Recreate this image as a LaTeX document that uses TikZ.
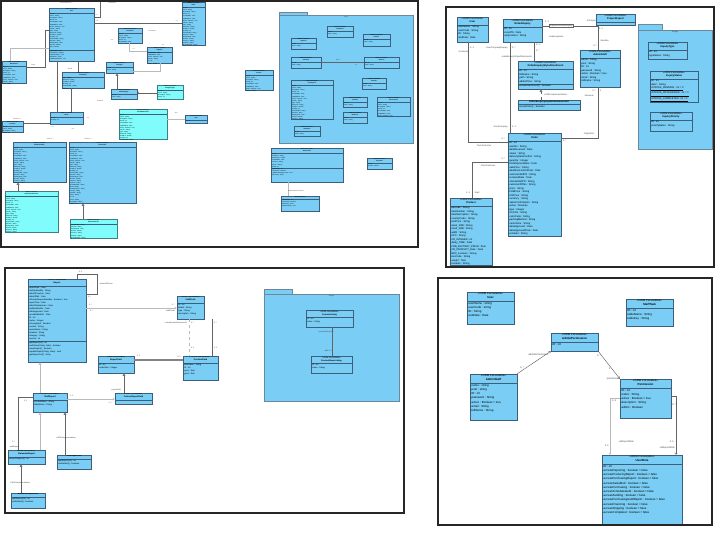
\documentclass[tikz,border=0pt]{standalone}
\usepackage{fontspec}
\setmainfont{Liberation Sans}
\usetikzlibrary{fit,arrows.meta}
\definecolor{cfill}{RGB}{122,205,244}
\definecolor{cdraw}{RGB}{60,96,124}
\definecolor{cyfill}{RGB}{128,252,252}
\definecolor{cydraw}{RGB}{58,128,132}
\definecolor{lnk}{RGB}{100,100,100}
\definecolor{lnkl}{RGB}{185,185,185}
\newcommand\clsfont{\fontsize{2.5}{3.5}\selectfont}
\newcommand\lblfont{\fontsize{2.2}{2.6}\selectfont}
\newcommand\hdh{8}
\newcommand\uhh{4.5}
\tikzset{
  panel/.style={draw=black!85, line width=1.5pt},
  clsbox/.style={draw=cdraw, fill=cfill, line width=0.5pt, inner sep=0pt},
  cybox/.style={draw=cydraw, fill=cyfill, line width=0.5pt, inner sep=0pt},
  inbox/.style={draw=cdraw, fill=cfill, line width=0.35pt, inner sep=0pt},
  pkgbox/.style={draw=cdraw!75, fill=cfill, line width=0.5pt, inner sep=0pt},
  conn/.style={draw=lnk, line width=0.45pt},
  connl/.style={draw=lnkl, line width=0.45pt},
  gen/.style={-{Triangle[open,length=2.6pt,width=2.8pt]}},
  nav/.style={-{Straight Barb[length=1.6pt,width=2.6pt]}},
  lbl/.style={font=\lblfont, inner sep=0pt, text=black!75},
  txt/.style={inner sep=0.5pt, align=left, font=\clsfont},
  hdrtxt/.style={inner sep=0.5pt, align=center, font=\clsfont},
}
% class with stereotype header
\newcommand\umlcls[8][clsbox]{%
  \node[#1, fit={(#3,#4)(#5,#6)}] (#2) {};
  \begin{scope}
    \clip (#3,#4) rectangle (#5,#6);
    \node[hdrtxt, anchor=north] (#2-h) at (#2.north) {<<ORM Persistable>>\\\textbf{#7}};
    \draw[draw=cdraw, line width=0.4pt] (#3,#4+\hdh) -- (#5,#4+\hdh);
    \node[txt, anchor=north west] (#2-a) at (#3,#4+\hdh) {#8};
  \end{scope}
}
% class without stereotype
\newcommand\umlutil[8][clsbox]{%
  \node[#1, fit={(#3,#4)(#5,#6)}] (#2) {};
  \begin{scope}
    \clip (#3,#4) rectangle (#5,#6);
    \node[hdrtxt, anchor=north] (#2-h) at (#2.north) {\textbf{#7}};
    \draw[draw=cdraw, line width=0.4pt] (#3,#4+\uhh) -- (#5,#4+\uhh);
    \node[txt, anchor=north west] (#2-a) at (#3,#4+\uhh) {#8};
  \end{scope}
}
\newcommand\umlops[5]{%
  \draw[draw=cdraw, line width=0.4pt] (#1,#3) -- (#2,#3);
  \node[txt, anchor=north west] (#4) at (#1,#3) {#5};
}
\newcommand\umlpkg[8]{%
  \draw[pkgbox] (#2,#3) rectangle (#2+#6,#3+#7);
  \node[pkgbox, fit={(#2,#3+#7)(#4,#5)}] (#1) {};
  \node[lbl, anchor=north] (#1-t) at ([yshift=-0.8pt]#1.north) {#8};
}
\newcounter{clabc}
\newcommand\clab[3][center]{\stepcounter{clabc}\node[lbl, anchor=#1] (clab\arabic{clabc}) at (#2) {#3};}
% fillers
\def\Fa{-ID : int\\-name : String\\-description : String\\-status : int}
\def\Fb{-createdDate : Date\\-lastModified : Date\\-active : boolean = true\\-remark : String}
\def\Fc{-type : String\\-itemCode : String\\-unitPrice : double\\-quantity : int}
\def\Fd{-customerRef : String\\-orderNo : String\\-deliveryDate : Date\\-amount : double}
\def\Fe{-currency : String\\-address : String\\-phoneNumber : String\\-email : String}
\def\Ff{-contactPerson : String\\-country : String\\-zipCode : String\\-notes : String}
\def\Fall{\Fa\\\Fb\\\Fc\\\Fd\\\Fe\\\Ff\\\Fa\\\Fb}
\begin{document}
\begin{tikzpicture}[x=1pt, y=-1pt]
\useasboundingbox (0,0) rectangle (720,536);
\fill[white] (0,0) rectangle (720,536);

%================ PANEL 1 =================
\def\clsfont{\fontsize{1.45}{2.05}\selectfont}\def\hdh{5}\def\uhh{3}\def\lblfont{\fontsize{1.5}{1.8}\selectfont}
\umlcls{p1item}{49}{8}{94}{61}{Item}{\Fa\\\Fb\\\Fc\\\Fd\\-flag : boolean}
\umlops{49}{94}{50}{p1item-o}{+getItem(int) : Item\\+saveItem() : boolean\\+deleteItem(int) : void\\+listItems() : Array\\+updateItem(Item) : void}
\umlcls{p1rc}{182}{2}{205}{45}{Order}{\Fall}
\umlcls{p1a}{118}{28}{142}{43}{Customer}{\Fa\\\Fb}
\umlcls{p1b}{147}{47}{172}{63}{Supplier}{\Fb\\\Fa}
\umlcls{p1c}{106}{62}{133}{73}{Category}{-ID : int\\-name : String}
\umlcls{p1d}{111}{89}{137}{99}{SubCategory}{-ID : int\\-code : String}
\umlcls[cybox]{p1e}{157}{85}{183}{99}{CategoryType}{\Fa}
\umlcls{p1f}{62}{72}{104}{88}{ItemDetail}{\Fc\\\Fd}
\umlcls{p1g}{2}{61}{26}{83}{Warehouse}{\Fall}
\umlcls{p1h}{50}{112}{83}{124}{Stock}{-ID : int\\-quantity : int}
\umlcls[cybox]{p1i}{119}{109}{167}{139}{StockMovement}{\Fall}
\umlcls{p1j}{185}{115}{207}{123}{Unit}{-ID : int}
\umlcls{p1k}{2}{121}{23}{132}{Location}{\Fa}
\umlcls{p1l}{13}{142}{66}{182}{PurchaseOrder}{\Fall}
\umlcls{p1m}{69}{142}{136}{203}{SalesOrder}{\Fall\\\Fall}
\umlcls[cybox]{p1n}{5}{191}{58}{232}{PurchaseOrderLine}{\Fall}
\umlcls[cybox]{p1o}{70}{219}{117}{238}{SalesOrderLine}{\Fd\\\Fe}
\umlcls{p1p}{245}{70}{273}{90}{Invoice}{\Fall}
\umlcls{p1q}{271}{148}{343}{182}{InvoiceLine}{-ID : int\\-invoiceNo : String\\-lineAmount : double\\-createdDate : Date\\-currency : String\\-remark : String\\-status : int}
\umlops{271}{343}{168}{p1q-o}{+getLine(int) : int\\+saveLine() : boolean\\+updateLine(String, Date) : void\\+listLines() : Array}
\umlcls{p1r}{367}{158}{392}{169}{Payment}{-ID : int\\-amount : double}
\umlutil{p1s}{281}{196}{319}{211}{InvoiceLineUtil}{+getLine(int) : int\\+saveLine() : boolean\\+listLines() : Array\\+deleteLine(int) : void}
\umlpkg{p1pkg}{279}{12}{413}{143}{28}{3.5}{Arrays}
\umlcls[inbox]{p1k1}{327}{26}{353}{37}{StatusList}{-ID : int\\-value : String}
\umlcls[inbox]{p1k2}{291}{38}{316}{49}{TypeList}{-ID : int\\-value : String}
\umlcls[inbox]{p1k3}{363}{34}{390}{46}{UnitList}{-ID : int\\-value : String}
\umlcls[inbox]{p1k4}{291}{57}{321}{68}{ColorList}{-ID : int\\-value : String}
\umlcls[inbox]{p1k5}{364}{57}{399}{68}{SizeList}{-ID : int\\-value : String}
\umlcls[inbox]{p1k6}{291}{80}{333}{119}{CountryList}{\Fall}
\umlcls[inbox]{p1k7}{362}{78}{386}{89}{PortList}{-ID : int\\-value : String}
\umlcls[inbox]{p1k8}{343}{97}{367}{107}{TermList}{-ID : int\\-value : String}
\umlcls[inbox]{p1k9}{377}{97}{410}{116}{CurrencyList}{\Fa\\\Fb}
\umlcls[inbox]{p1k10}{343}{112}{367}{123}{BankList}{-ID : int\\-value : String}
\umlcls[inbox]{p1k11}{294}{126}{320}{136}{GradeList}{-ID : int\\-value : String}
% connectors
\coordinate (p1t1) at (100,2);
\draw[conn] (p1item.east |- 0,17) -- (100,17) -- (p1t1);
\draw[conn] (p1item.east |- 0,23) -- (p1rc.west |- 0,23);
\draw[conn] (p1item.west |- 0,30) -- (45,30) -- (45,67) -- (p1g.east |- 0,67);
\draw[connl] (p1item.west |- 0,48) -- (10,48) -- (p1g.north -| 10,0);
\draw[conn] (p1item.south -| 57,0) -- (p1h.north -| 57,0);
\draw[conn] (p1f.north -| 78,0) -- (p1item.south -| 78,0);
\draw[conn] (p1f.south -| 71,0) -- (p1h.north -| 71,0);
\draw[conn, gen] (p1d.north -| 117,0) -- (p1c.south -| 117,0);
\draw[conn, nav] (p1e.west |- 0,93) -- (p1d.east |- 0,93);
\draw[connl] (p1c.east |- 0,71) -- (160,71) -- (p1b.south -| 160,0);
\draw[connl] (p1a.south -| 129,0) -- (129,51) -- (p1b.west |- 0,51);
\draw[conn] (p1k.east |- 0,123) -- (p1h.west |- 0,123);
\draw[conn, gen] (p1n.north -| 18,0) -- (p1l.south -| 18,0);
\draw[conn, gen] (p1o.north -| 83,0) -- (p1m.south -| 83,0);
\draw[connl] (p1i.east |- 0,119) -- (p1j.west |- 0,119);
\draw[connl] (p1s.north -| 288,0) -- (p1q.south -| 288,0);
\draw[conn] (p1k4.east |- 0,62) -- (p1k5.west |- 0,62);
\clab{66,3}{-inventoryItems 0..*}
\clab{112,3}{-orderItems}
\clab{97,15}{0..*}
\clab{97,21}{0..1}
\clab{177,21}{0..*}
\clab{152,31}{-customers}
\clab{112,40}{0..1}
\clab{134,49}{0..*}
\clab{163,45}{0..1}
\clab{70,69}{-details}
\clab{33,65}{-items}
\clab{100,101}{-stockList}
\clab{17,119}{-location 0..*}
\clab{88,118}{0..1}
\clab{176,113}{-unit}
\clab{50,139}{-items 0..*}
\clab{88,139}{-history 0..*}
\clab{73,129}{0..1}
\clab{53,127}{0..*}
\clab{296,191}{<<ORM Implementation>>}
\clab{338,60}{-list 0..*}
\clab{356,65}{0..1}

%================ PANEL 2 =================
\def\clsfont{\fontsize{2.5}{3.5}\selectfont}\def\hdh{8}\def\uhh{4.5}\def\lblfont{\fontsize{2.2}{2.6}\selectfont}
\umlcls{p2user}{457}{17}{488}{42}{User}{-userName : String\\-userCode : String\\-ID : String\\-endDate : Date}
\umlcls{p2enq}{503}{19}{542}{42}{OrderEnquiry}{-ID : int\\-recvdTS : Date\\-enqContent : String}
\umlcls{p2proj}{596}{14}{635}{25}{ProjectReport}{}
\umlcls{p2att}{518}{61}{573}{89}{OrderEnquiryStyleAttachment}{-ID : int\\-fileName : String\\-path : String\\-addedTime : String}
\umlops{518}{573}{84}{p2att-o}{+saveAttachment() : boolean}
\umlutil{p2util}{518}{100}{580}{110}{OrderEnquiryStyleAttachmentUtil}{+saveOrder() : boolean}
\umlcls{p2order}{508}{133}{561}{236}{Order}{-ID : int\\-userNo : String\\-dateReceived : Date\\-status : String\\-deliveryDateConfirm : String\\-quantity : Integer\\-firstShipmentDate : Date\\-salePrice : String\\-deadlineConfirmDate : Date\\-customerRefPO : String\\-receivedDate : Date\\-checkerRefPO : String\\-customerPONo : String\\-price : String\\-FOBPrice : String\\-CIFPrice : String\\-currency : String\\-salesConfirmation : String\\-active : Boolean\\-type : Integer\\-CCCNo : String\\-colorCode : String\\-packingMethod : String\\-cartonSize : String\\-dateApproved : Date\\-dateApprovedFinal : Date\\-remarks : String}
\umlcls{p2prod}{450}{198}{492}{265}{Product}{-barcode : String\\-itemNumber : String\\-itemDescription : String\\-countryCode : String\\-unitPrice : String\\-size1\_FOB : String\\-size2\_FOB : String\\-width : String\\-UPC : String\\-CR\_INTEGER : int\\-delay\_TIME : Date\\-FOB\_FACTORY\_PRICE : float\\-CR\_PRODUCT\_Date : Date\\-BOX\_Location : String\\-boxCode : String\\-weight : float\\-remarks : String}
\umlcls{p2admin}{580}{50}{620}{87}{AdminStaff}{-name : String\\-post : String\\-ID : int\\-password : String\\-active : Boolean = true\\-email : String\\-fullName : String}
\umlpkg{p2pkg}{638}{24}{712}{149}{24}{6}{Arrays}
\umlcls[inbox]{p2it}{648}{42}{687}{59}{InquiryType}{-ID : int\\-typeName : String}
\umlcls[inbox]{p2is}{650}{71}{698}{102}{InquiryStatus}{-ID : int\\-desc : String\\\underline{+STATUS\_PENDING : int = 0}\\\underline{+STATUS\_PROCESSING : int = 1}\\\underline{+STATUS\_COMPLETED : int = 2}}
\umlcls[inbox]{p2ip}{650}{112}{692}{131}{InquiryPriority}{-ID : int\\-priorityName : String}
\draw[conn] (p2user.south -| 468,0) -- (468,142) -- (p2order.west |- 0,142);
\draw[conn] (p2enq.south -| 510,0) -- (p2order.north -| 510,0);
\draw[conn] (p2enq.south -| 534,0) -- (p2att.north -| 534,0);
\draw[conn, dashed, gen] (p2util.north -| 541,0) -- (p2att.south -| 541,0);
\draw[conn] (p2enq.east |- 0,26) -- (598,26) -- (p2admin.north -| 598,0);
\draw[conn] (p2admin.south -| 598,0) -- (598,138) -- (p2order.east |- 0,138);
\draw[conn] (p2prod.north -| 472,0) -- (472,162) -- (p2order.west |- 0,162);
\node[lbl, draw=lnk, line width=0.3pt, fill=white, inner sep=0.6pt] (p2oie) at (561,26) {-ObjectInvolvedEnquiry};
\clab[west]{545,22}{0..1}
\clab{556,37}{-orderenquiries}
\clab[east]{596,21}{-inProject}
\clab[west]{599,29}{0..1}
\clab[west]{600,41}{-handles}
\clab[east]{597,46}{0..*}
\clab[west]{470,48}{0..1}
\clab[west]{458,52}{-Customer}
\clab[east]{508,48}{-fromCompanyEnquiry}
\clab[west]{512,48}{0..*}
\clab[west]{536,45}{0..1}
\clab[west]{536,51}{0..*}
\clab[east]{532,57}{-orderEnquiryStyleAttachments}
\clab[west]{544,95}{<<ORM Implementation>>}
\clab[east]{508,127}{-fromCompany}
\clab[west]{512,127}{0..1}
\clab[east]{505,139}{0..*}
\clab{484,146}{-fromCustomer}
\clab[east]{505,159}{0..*}
\clab{488,166}{-fromCustomer}
\clab[east]{470,193}{0..1}
\clab[west]{474,193}{-Dept}
\clab[east]{596,91}{0..*}
\clab[west]{600,91}{1}
\clab{589,96}{-Receiver}
\clab[east]{594,134}{-DepotOrd}
\clab[west]{563,141}{0..*}

%================ PANEL 3 =================
\def\clsfont{\fontsize{2.1}{3.0}\selectfont}\def\hdh{7}\def\uhh{4}\def\lblfont{\fontsize{1.9}{2.3}\selectfont}
\umlcls{p3rep}{28}{279}{86}{362}{Report}{-reportDate : Date\\-lastUpdatedBy : String\\-dateOfCreation : Date\\-dateOfEdit : Date\\-isPrivateReportAvailable : boolean = true\\-reportTime : Date\\-dateOfSubmission : Date\\-lastModifiedOn : Date\\-dateApproved : Date\\-recordEditedOn : Date\\-ID : int\\-status : Integer\\-isCompleted : Boolean\\-content : String\\-reportName : String\\-remarks : String\\-category : String\\-version : int}
\umlops{28}{86}{341}{p3rep-o}{+getReport(int) : int\\+setStatus(String, Date) : boolean\\+saveReport() : boolean\\+updateReport(String, Date) : void\\+getReportList() : Array}
\umlcls{p3role}{177}{296}{204}{319}{StaffField}{-ID : int\\-fieldId : String\\-type : String\\-description : String}
\umlcls{p3rf}{98}{356}{134}{373}{ReportField}{-ID : int\\-orderNum : Integer}
\umlcls{p3pos}{183}{356}{218}{380}{PositionField}{-fieldName : String\\-ID : int\\-xpos : float\\-ypos : float}
\umlcls{p3sr}{33}{393}{67}{412}{StaffReport}{-IDFieldName : String\\-tableName : String}
\umlcls{p3crf}{115}{393}{152}{404}{CustomReportField}{}
\umlcls{p3stm}{8}{450}{45}{464}{StatementReport}{+issueToReport() : int}
\umlutil{p3util}{57}{455}{91}{469}{StaffReportUtil}{+getReport(int) : int\\+setDefault() : boolean}
\umlutil{p3stmu}{11}{493}{45}{508}{StatementReportUtil}{+getReport(int) : int\\+setDefault() : boolean}
\umlpkg{p3pkg}{264}{289}{399}{401}{28}{5}{Arrays}
\umlcls[inbox]{p3cl}{306}{310}{353}{327}{ContentListing}{-ID : int\\-value : String}
\umlcls[inbox]{p3pl}{311}{356}{352}{373}{ProductNameListing}{-ID : int\\-value : String}
\draw[conn] (p3rep.north -| 77,0) -- (77,274) -- (97,274) -- (97,294) -- (p3rep.east |- 0,294);
\draw[connl, nav] (p3rep.east |- 0,308) -- (p3role.west |- 0,308);
\draw[draw=lnk!80, line width=1.1pt] (p3rf.east |- 0,360) -- (p3pos.west |- 0,360);
\draw[connl, dashed] (p3role.south -| 189,0) -- (p3pos.north -| 189,0);
\draw[draw=lnk, line width=0.8pt] (p3role.south -| 212,0) -- (p3pos.north -| 212,0);
\draw[conn, gen] (p3crf.north -| 124,0) -- (p3rf.south -| 124,0);
\draw[connl, gen] (p3sr.north -| 40,0) -- (p3rep.south -| 40,0);
\draw[connl, nav] (p3sr.east |- 0,399) -- (p3crf.west |- 0,399);
\draw[conn] (p3sr.west |- 0,397) -- (18,397) -- (p3stm.north -| 18,0);
\draw[connl, gen] (p3stm.north -| 40,0) -- (p3sr.south -| 40,0);
\draw[conn, gen] (p3util.north -| 65,0) -- (p3sr.south -| 65,0);
\draw[conn, gen] (p3stmu.north -| 21,0) -- (p3stm.south -| 21,0);
\draw[conn] (p3pl.north -| 332,0) -- (p3cl.south -| 332,0);
\clab[west]{79,272}{0..1}
\clab[west]{99,284}{-relatedTo/From}
\clab[west]{88,297}{0..*}
\clab[west]{89,305}{0..*}
\clab[west]{90,311}{0..*}
\clab[east]{175,311}{-staffFields}
\clab[east]{175,305}{0..*}
\clab[east]{187,323}{-subordinateOf/superiorOf}
\clab[west]{191,323}{0..*}
\clab[west]{214,323}{0..*}
\clab[west]{191,348}{0..1}
\clab[west]{214,348}{1..1}
\clab[west]{137,356}{0..1}
\clab[east]{181,357}{0..1}
\clab[east]{121,390}{-reportField}
\clab[west]{70,396}{0..1}
\clab[east]{112,403}{0..*}
\clab[west]{24,401}{0..1}
\clab[west]{12,442}{0..*}
\clab[west]{9,447}{-staffReport}
\clab[west]{56,438}{<<ORM Implementation>>}
\clab[west]{10,483}{<<ORM Implementation>>}
\clab{326,332}{-contentListing 0..*}
\clab{328,351}{-add 0..1}

%================ PANEL 4 =================
\def\clsfont{\fontsize{2.9}{4.2}\selectfont}\def\hdh{9.5}\def\uhh{5}\def\lblfont{\fontsize{2.4}{2.8}\selectfont}
\umlcls{p4user}{467}{292}{514}{324}{User}{-userName : string\\-userCode : string\\-ID : String\\-endDate : Date}
\umlcls{p4perm}{551}{333}{598}{351}{AdminPermission}{-ID : int}
\umlcls{p4admin}{470}{374}{517}{420}{AdminStaff}{-name : string\\-post : string\\-ID : int\\-password : String\\-active : Boolean = true\\-email : String\\-fullName : String}
\umlcls{p4task}{626}{299}{673}{326}{StaffTask}{-ID : int\\-tableName : String\\-tableKey : String}
\umlcls{p4perm2}{620}{379}{671}{418}{Permission}{-ID : int\\-name : String\\-active : Boolean = true\\-description : String\\-admin : Boolean}
\umlcls{p4role}{602}{455}{682}{524}{UserRole}{-ID : int\\-accessReporting : boolean = false\\-accessProducingReport : boolean = false\\-accessPurchasingReport : boolean = false\\-accessSalesMod : boolean = false\\-accessPurchasing : boolean = false\\-accessScheduleAudit : boolean = false\\-accessAuditing : boolean = false\\-accessPurchasingAuditReport : boolean = false\\-accessFinancing : boolean = false\\-accessShipping : boolean = false\\-accessCompleted : boolean = false}
\draw[conn, nav] (p4admin.north east) -- (p4perm.south west);
\draw[conn, nav] (p4perm.south east) -- (p4perm2.north west);
\draw[connl, nav] (p4perm2.west |- 0,398) -- (610,398) -- (p4role.north -| 610,0);
\draw[conn, nav] (p4perm2.east |- 0,396) -- (676,396) -- (p4role.north -| 676,0);
\clab{538,355}{-adminPermissions}
\clab[west]{520,368}{0..*}
\clab[west]{597,356}{0..*}
\clab[west]{609,369}{1}
\clab[east]{619,379}{-permission}
\clab[west]{612,401}{0..1}
\clab[east]{609,446}{1..1}
\clab[west]{618,442}{-onReportRole}
\clab[west]{672,405}{0..*}
\clab[east]{674,442}{1..1}
\clab[east]{675,448}{-onReportRole}

%================ FRAMES =================
\draw[panel] (1,1) rectangle (418,247);
\draw[panel] (446,7) rectangle (714,267);
\draw[panel] (5,268) rectangle (404,513);
\draw[panel] (438,278) rectangle (712,525);
\end{tikzpicture}
\end{document}
